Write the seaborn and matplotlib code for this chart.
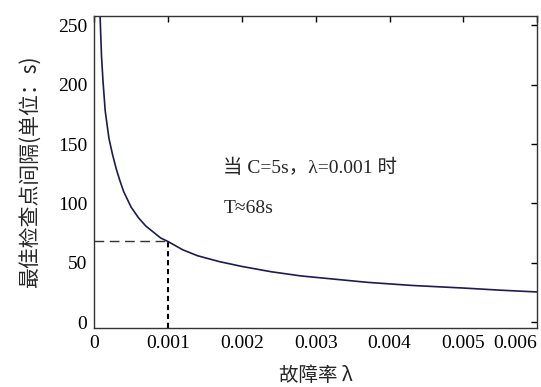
import matplotlib
matplotlib.use('Agg')
import matplotlib.pyplot as plt
import pandas as pd
import seaborn as sns

# values
lam = [0.000078, 0.0001, 0.00012, 0.00015, 0.0002, 0.00025, 0.0003, 0.00035, 0.0004,
       0.0005, 0.0006, 0.0007, 0.0008, 0.0009, 0.001, 0.0012, 0.0014, 0.0017, 0.002,
       0.0024, 0.0028, 0.0033, 0.0037, 0.0043, 0.005, 0.0055, 0.006]
T = [262, 224, 203, 178, 155, 141, 129, 119, 110,
     97, 88, 81, 76, 71, 68, 61, 56, 51, 47,
     42.5, 39, 36, 33.6, 31, 28.8, 27, 25.5]

lam_mark = 0.001
T_mark = 68
xticks = [0, 0.001, 0.002, 0.003, 0.004, 0.005, 0.006]
xticklabels = ['0', '0.001', '0.002', '0.003', '0.004', '0.005', '0.006']
yticks = [0, 50, 100, 150, 200, 250]

df = pd.DataFrame({'lam': lam, 'T': T})

sns.set_style('white')
plt.rcParams['font.family'] = ['Liberation Serif', 'Noto Sans CJK SC']
plt.rcParams['axes.unicode_minus'] = False

fig = plt.figure(figsize=(5.41, 3.87), dpi=100)
ax = fig.add_axes([0.174, 0.152, 0.819, 0.807])

sns.lineplot(data=df, x='lam', y='T', ax=ax, color='#1c1c4e', linewidth=1.2)

# guide lines at lambda = 0.001
ax.plot([0, lam_mark], [T_mark, T_mark], color='#333333', linewidth=1.0, dashes=(7, 4))
ax.plot([lam_mark, lam_mark], [-5, T_mark], color='black', linewidth=1.5, dashes=(2.5, 1.8))

ax.text(0.00175, 130, '当 C=5s，λ=0.001 时', fontsize=14, va='center', ha='left')
ax.text(0.00175, 96, 'T≈68s', fontsize=14, va='center', ha='left')

ax.set_xlim(0, 0.006)
ax.set_ylim(-5, 258)
ax.set_xticks(xticks)
ax.set_xticklabels(xticklabels)
ax.set_yticks(yticks)
ax.tick_params(direction='in', length=4, width=1, labelsize=14,
               top=True, right=True, colors='black')
ax.tick_params(axis='x', pad=5)
ax.tick_params(axis='y', pad=5)
ax.get_xticklabels()[-1].set_horizontalalignment('right')
ax.set_xlabel('故障率 λ', fontsize=14, family=['Noto Sans CJK SC'], labelpad=9)
ax.set_ylabel('最佳检查点间隔(单位：s)', fontsize=15, family=['Noto Sans CJK SC'], labelpad=12)
for s in ax.spines.values():
    s.set_color('#333333')
    s.set_linewidth(1.0)

plt.savefig('out.png', dpi=100)
